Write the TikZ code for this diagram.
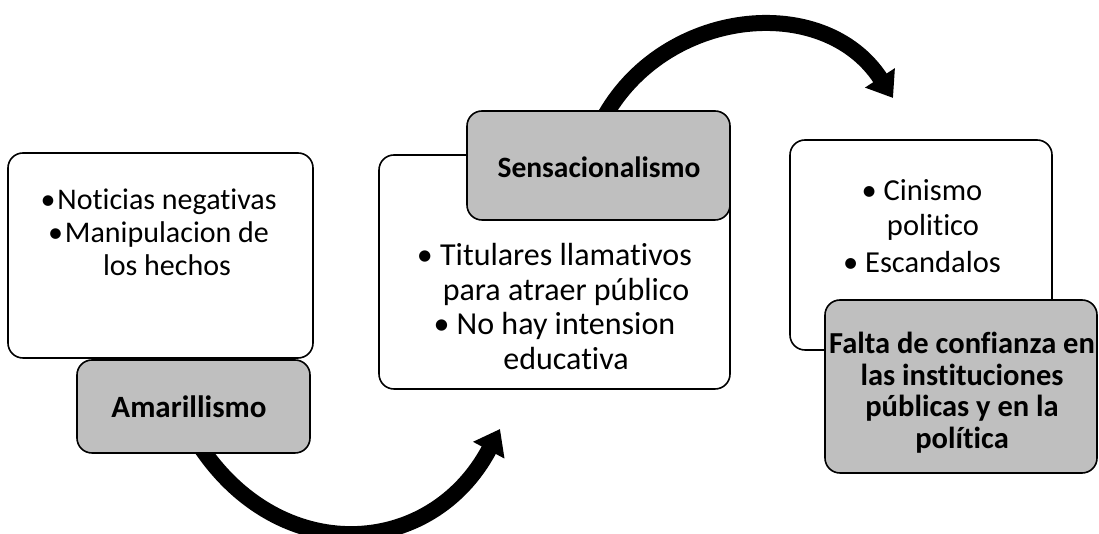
\documentclass[tikz,border=0pt]{standalone}
\usepackage{fontspec}
\setmainfont{Carlito}[Ligatures=NoCommon]
\usetikzlibrary{arrows.meta,backgrounds}
\definecolor{boxgray}{HTML}{BFBFBF}
\newcommand{\bul}{\llap{\textbullet\ }}
\tikzset{
  whitebox/.style={draw, line width=1.6pt, rounded corners=15pt, fill=white, inner sep=0pt},
  graybox/.style={whitebox, fill=boxgray},
  bigarrow/.style={line width=16pt, -{Triangle[width=34pt,length=24pt]}},
  txt/.style={align=center, inner sep=0pt, font=\fontsize{30}{33}\selectfont},
}

\begin{document}
\begin{tikzpicture}[x=1pt,y=1pt]
  \useasboundingbox (0,0) rectangle (1099,534);
  % boxes
  \node[whitebox, minimum width=305, minimum height=205] (neg) at (160.5,278.5) {};
  \node[graybox, minimum width=233, minimum height=93] (amar) at (193.5,127.5) {};
  \node[whitebox, minimum width=351, minimum height=234] (tit) at (554.5,262) {};
  \node[graybox, minimum width=263, minimum height=109] (sens) at (598.5,368.5) {};
  \node[whitebox, minimum width=262, minimum height=210] (cin) at (921,289) {};
  \node[graybox, minimum width=272, minimum height=173] (falta) at (961,147.5) {};
  % texts
  \node[txt] (negtxt) at (167,301.5) {\llap{\textbullet\hspace{2pt}}Noticias negativas\\ \llap{\textbullet\hspace{2pt}}Manipulacion de\\ los hechos};
  \node[txt, font=\fontsize{31}{33}\selectfont\bfseries] (amartxt) at (189,127) {Amarillismo};
  \node[txt, font=\fontsize{32}{34.5}\selectfont] (tittxt) at (566,227.5) {\bul Titulares llamativos\\ para atraer público\\ \bul No hay intension\\ educativa};
  \node[txt, font=\fontsize{29.5}{33}\selectfont\bfseries] (senstxt) at (599,367) {Sensacionalismo};
  \node[txt, font=\fontsize{30.5}{35}\selectfont] (cintxt) at (933,308) {\bul Cinismo\\ politico\\[2pt] \bul Escandalos};
  \node[txt, font=\fontsize{30.5}{31.5}\selectfont\bfseries] (faltatxt) at (962,141.5) {Falta de confianza en\\ las instituciones\\ públicas y en la\\ política};
  % arrows
  \coordinate (tipA) at (500,105);
  \coordinate (tipB) at (893,436);
  \begin{pgfonlayer}{background}
    \draw[bigarrow] ([shift={(5pt,10pt)}]amar.south) to[out=-57, in=-118, looseness=1.25] (tipA);
    \draw[bigarrow] ([shift={(4pt,-10pt)}]sens.north) to[out=62, in=123, looseness=1.12] (tipB);
  \end{pgfonlayer}
\end{tikzpicture}
\end{document}
